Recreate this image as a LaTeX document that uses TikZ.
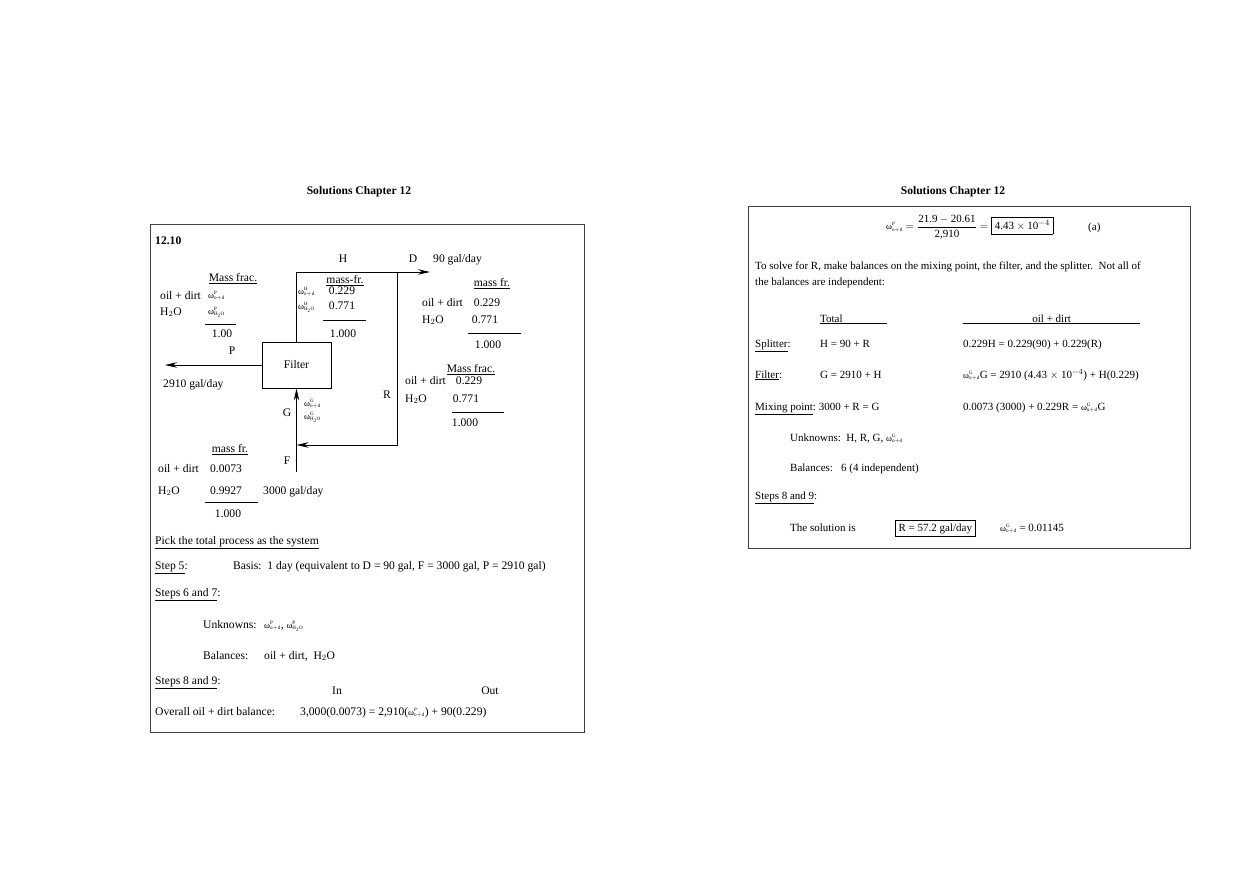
\documentclass[tikz,border=0pt]{standalone}
\usepackage{fontspec}
\setmainfont{Liberation Serif}
\usepackage{amsmath}
\usetikzlibrary{arrows.meta}
\newcommand{\lfs}{\fontsize{11.6}{14}\selectfont}
\newcommand{\rfs}{\fontsize{11}{13}\selectfont}
\tikzset{sol/.style={x=1pt,y=-1pt,font=\lfs},
  txt/.style={anchor=base west,inner sep=0pt},
  ctr/.style={anchor=base,inner sep=0pt},
  pipe/.style={line width=0.9pt},
  flow/.style={pipe,-{Stealth[length=12pt,width=5.5pt]}},
  frame/.style={line width=1pt,draw=black!75},
  rule/.style={line width=0.8pt}}
\newcommand{\wsm}[2]{{\small ω$^{\scriptscriptstyle\mathrm{#1}}_{\scriptscriptstyle\mathrm{#2}}$}}

\begin{document}
\begin{tikzpicture}[sol]
    \useasboundingbox (0,0) rectangle (1259,891);
    \node[ctr,font=\lfs\bfseries] (hdl) at (359,194) {Solutions Chapter 12};
    \node[ctr,font=\lfs\bfseries] (hdr) at (953,194) {Solutions Chapter 12};
    \draw[frame] (150,224) rectangle (584,732); % left page box
    \draw[frame] (748,206) rectangle (1190,548); % right page box
    % flowsheet
    \node[txt,font=\lfs\bfseries] (num) at (155,244) {12.10};
    \node[draw,pipe,minimum width=69pt,minimum height=46pt,inner sep=0pt] (filt) at (296.5,365) {Filter};
    \coordinate (spl) at (397,272); % splitter
    \coordinate (dout) at (430,272);
    \coordinate (rc) at (397,445);
    \coordinate (mix) at (filt.south |- rc); % mixing point
    \coordinate (fin) at ([yshift=-27pt]mix);
    \coordinate (pout) at (165,365);
    \draw[pipe] (filt.north) |- (spl); % H line
    \draw[flow] (spl) -- (dout); % D out
    \draw[flow] (spl) -- (rc) -- (mix); % recycle R
    \draw[flow] (fin) -- (filt.south); % F + R = G
    \draw[flow] (filt.west) -- (pout); % product P
    \node[ctr] (lh) at (343,262) {H};
    \node[ctr] (ld) at (413,262) {D};
    \node[txt] (dq) at (433,262) {90 gal/day};
    \node[ctr] (lp) at (232,354) {P};
    \node[txt] (pq) at (163,387) {2910 gal/day};
    \node[ctr] (lr) at (387,398) {R};
    \node[ctr] (lg) at (287,416) {G};
    \node[ctr] (lf) at (287,464) {F};
    \node[txt] (fq) at (263,494) {3000 gal/day};
    % P table
    \node[ctr] (pt) at (233,281) {\underline{Mass frac.}};
    \node[txt] (pa) at (160,299) {oil + dirt};
    \node[txt] (pb) at (160,315) {H$_2$O};
    \node[txt] (pw1) at (208,298) {\wsm{P}{o+d}};
    \node[txt] (pw2) at (208,314) {\wsm{P}{H_2O}};
    \draw[rule] (205,324) -- (236,324);
    \node[ctr] (ps) at (222,337) {1.00};
    % H table
    \node[ctr] (ht) at (345,283) {\underline{mass-fr.}};
    \node[txt] (hw1) at (298,294) {\wsm{H}{o+d}};
    \node[txt] (hw2) at (298,309) {\wsm{H}{H_2O}};
    \node[ctr] (ha) at (342,294) {0.229};
    \node[ctr] (hb) at (342,309) {0.771};
    \draw[rule] (323,320) -- (366,320);
    \node[ctr] (hs) at (343,337) {1.000};
    % D table
    \node[ctr] (dt) at (492,286) {\underline{mass fr.}};
    \node[txt] (da) at (422,306) {oil + dirt};
    \node[txt] (db) at (422,323) {H$_2$O};
    \node[ctr] (dva) at (487,306) {0.229};
    \node[ctr] (dvb) at (485,323) {0.771};
    \draw[rule] (468,333) -- (521,333);
    \node[ctr] (ds) at (488,348) {1.000};
    % R table
    \node[ctr] (rt) at (471,372) {\underline{Mass frac.}};
    \node[txt] (ra) at (405,384) {oil + dirt};
    \node[txt] (rb) at (405,402) {H$_2$O};
    \node[ctr] (rva) at (469,384) {0.229};
    \node[ctr] (rvb) at (466,402) {0.771};
    \draw[rule] (452,412) -- (504,412);
    \node[ctr] (rs) at (465,426) {1.000};
    % G labels
    \node[txt] (gw1) at (304,406) {\wsm{G}{o+d}};
    \node[txt] (gw2) at (304,419) {\wsm{G}{H_2O}};
    % F table
    \node[ctr] (ft) at (230,452) {\underline{mass fr.}};
    \node[txt] (fa) at (158,472) {oil + dirt};
    \node[txt] (fb) at (158,494) {H$_2$O};
    \node[ctr] (fva) at (226,472) {0.0073};
    \node[ctr] (fvb) at (226,494) {0.9927};
    \draw[rule] (205,502) -- (258,502);
    \node[ctr] (fs) at (228,517) {1.000};
    % steps, left page
    \node[txt] (pick) at (155,544) {\underline{Pick the total process as the system}};
    \node[txt] (s5) at (155,569) {\underline{Step 5}:};
    \node[txt] (basis) at (233,569) {Basis:\ \ 1 day (equivalent to D = 90 gal, F = 3000 gal, P = 2910 gal)};
    \node[txt] (s67) at (155,596) {\underline{Steps 6 and 7}:};
    \node[txt] (unk) at (203,628) {Unknowns:};
    \node[txt] (unkv) at (264,628) {\wsm{P}{o+d}, \wsm{P}{H_2O}};
    \node[txt] (bal) at (203,659) {Balances:};
    \node[txt] (balv) at (264,659) {oil + dirt,\ \ H$_2$O};
    \node[txt] (s89) at (155,684) {\underline{Steps 8 and 9}:};
    \node[ctr] (cin) at (337,694) {In};
    \node[ctr] (cout) at (490,694) {Out};
    \node[txt] (ov) at (155,715) {Overall oil + dirt balance:};
    \node[txt] (ovv) at (300,715) {3,000(0.0073) = 2,910(\wsm{P}{o+d}) + 90(0.229)};
    % right page
    \begin{scope}[font=\rfs]
    \node[anchor=west,inner sep=0pt] (eqa) at (886,227)
      {\wsm{P}{o+d} $= \dfrac{\text{21.9} - \text{20.61}}{\text{2,910}} = \boxed{\text{4.43}\times\text{10}^{-4}}$};
    \node[txt] (tag) at (1088,230) {(a)};
    \node[txt] (par1) at (755,269) {To solve for R, make balances on the mixing point, the filter, and the splitter.\ \ Not all of};
    \node[txt] (par2) at (755,285) {the balances are independent:};
    \node[txt] (tot) at (820,322) {\underline{Total\hspace*{44pt}}};
    \node[txt] (ood) at (963,322) {\underline{\makebox[177pt]{oil + dirt}}};
    \node[txt] (sp) at (755,347) {\underline{Splitter}:};
    \node[txt] (spa) at (820,347) {H = 90 + R};
    \node[txt] (spb) at (963,347) {0.229H = 0.229(90) + 0.229(R)};
    \node[txt] (fl) at (755,378) {\underline{Filter}:};
    \node[txt] (fla) at (820,378) {G = 2910 + H};
    \node[txt] (flb) at (963,378) {\wsm{G}{o+d}G\ = 2910 (4.43 $\times$ 10$^{-4}$) + H(0.229)};
    \node[txt] (mx) at (755,410) {\underline{Mixing point}:\ 3000 + R = G};
    \node[txt] (mxb) at (963,410) {0.0073 (3000) + 0.229R = \wsm{G}{o+d}G};
    \node[txt] (unk2) at (790,441) {Unknowns:\ \ H, R, G, \wsm{G}{o+d}};
    \node[txt] (bal2) at (790,471) {Balances:\ \ \ 6 (4 independent)};
    \node[txt] (s89b) at (755,499) {\underline{Steps 8 and 9}:};
    \node[txt] (solv) at (790,531) {The solution is};
    \node[txt] (rbox) at (895,531) {\fbox{R = 57.2 gal/day}};
    \node[txt] (wres) at (1000,531) {\wsm{G}{o+d} = 0.01145};
    \end{scope}
\end{tikzpicture}
\end{document}
